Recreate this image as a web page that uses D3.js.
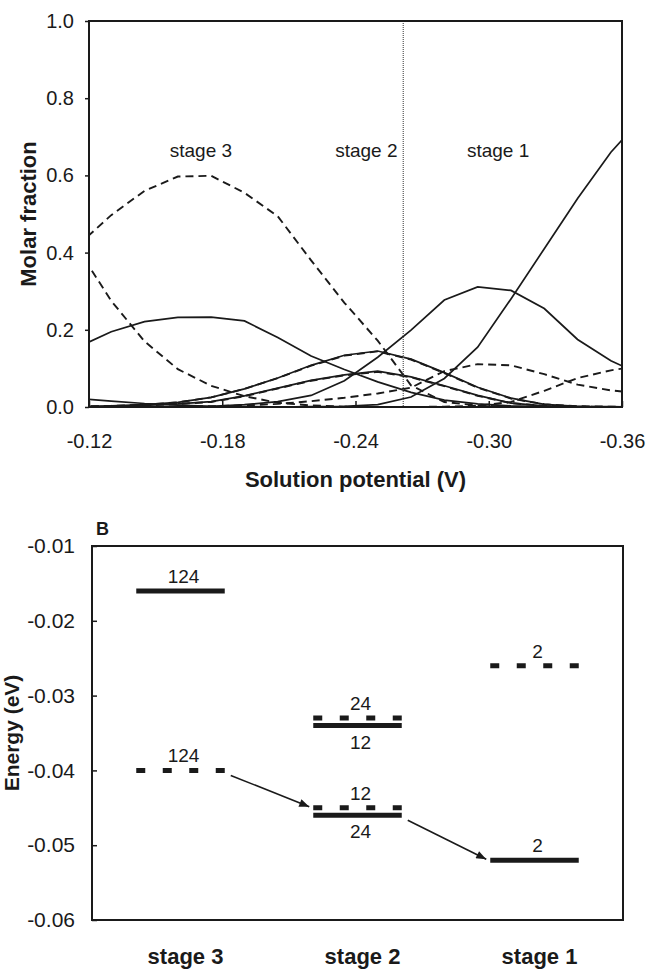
<!DOCTYPE html>
<html>
<head>
<meta charset="utf-8">
<script src="https://cdn.jsdelivr.net/npm/d3@7"></script>
<style>
body { margin: 0; background: #fff; }
svg { display: block; font-family: "Liberation Sans", Arial, sans-serif; }
</style>
</head>
<body>
<div id="chart"></div>
<script>
const WIDTH = 648
const HEIGHT = 971

// panel A: molar fraction vs solution potential
const potentials = [-0.115, -0.13, -0.145, -0.16, -0.175, -0.19, -0.205, -0.22, -0.235,
    -0.25, -0.265, -0.28, -0.295, -0.31, -0.325, -0.34, -0.355, -0.37]
const dashed_a = [0.419, 0.497, 0.560, 0.597, 0.599, 0.555, 0.494, 0.380, 0.270,
    0.172, 0.056, 0.013, 0.004, 0, 0, 0, 0, 0]
const dashed_b = [0.410, 0.275, 0.170, 0.098, 0.055, 0.028, 0.011, 0.004, 0.001,
    0, 0, 0, 0, 0, 0, 0, 0, 0]
const solid_c = [0.155, 0.195, 0.221, 0.232, 0.233, 0.223, 0.180, 0.132, 0.097,
    0.065, 0.038, 0.018, 0.008, 0.003, 0.001, 0, 0, 0]
const solid_d = [0.022, 0.015, 0.009, 0.005, 0.002, 0.001, 0, 0, 0,
    0, 0, 0, 0, 0, 0, 0, 0, 0]
const solid_e = [0.001, 0.003, 0.006, 0.012, 0.025, 0.047, 0.075, 0.108, 0.134,
    0.145, 0.124, 0.089, 0.051, 0.023, 0.007, 0.002, 0.001, 0]
const dashed_e = [0.001, 0.003, 0.006, 0.012, 0.025, 0.047, 0.075, 0.107, 0.133,
    0.144, 0.123, 0.088, 0.050, 0.022, 0.007, 0.002, 0.001, 0]
const solid_f = [0, 0.002, 0.004, 0.008, 0.014, 0.029, 0.049, 0.069, 0.083,
    0.093, 0.078, 0.055, 0.030, 0.010, 0.003, 0.001, 0, 0]
const dashed_f = [0, 0.002, 0.004, 0.008, 0.013, 0.028, 0.048, 0.068, 0.082,
    0.091, 0.077, 0.054, 0.029, 0.010, 0.003, 0.001, 0, 0]
const solid_g = [0, 0, 0, 0.001, 0.002, 0.006, 0.014, 0.030, 0.068,
    0.129, 0.199, 0.277, 0.311, 0.302, 0.255, 0.175, 0.120, 0.080]
const solid_h = [0, 0, 0, 0, 0, 0, 0, 0.001, 0.002,
    0.006, 0.026, 0.074, 0.155, 0.280, 0.410, 0.540, 0.660, 0.755]
const dashed_i = [0, 0, 0, 0.001, 0.002, 0.004, 0.008, 0.015, 0.024,
    0.035, 0.050, 0.093, 0.111, 0.108, 0.085, 0.058, 0.043, 0.035]
const dashed_j = [0, 0, 0, 0, 0, 0, 0, 0, 0,
    0, 0, 0.001, 0.003, 0.013, 0.042, 0.075, 0.095, 0.108]

const x_ticks = [-0.12, -0.18, -0.24, -0.30, -0.36]
const y_ticks = [0, 0.2, 0.4, 0.6, 0.8, 1.0]
const stage_boundary = -0.2615
const stage_names = ["stage 3", "stage 2", "stage 1"]
const stage_label_potentials = [-0.1704, -0.2449, -0.3042]

// panel B: energy levels
const stages = ["stage 3", "stage 2", "stage 1"]
const level_stage = ["stage 3", "stage 3", "stage 2", "stage 2", "stage 2", "stage 2", "stage 1", "stage 1"]
const level_energy = [-0.016, -0.040, -0.033, -0.034, -0.045, -0.046, -0.026, -0.052]
const level_kind = ["solid", "dashed", "dashed", "solid", "dashed", "solid", "dashed", "solid"]
const level_label = ["124", "124", "24", "12", "12", "24", "2", "2"]
const level_label_side = ["above", "above", "above", "below", "above", "below", "above", "above"]
const arrow_from = [1, 5]
const arrow_to = [4, 7]
const energy_ticks = [-0.06, -0.05, -0.04, -0.03, -0.02, -0.01]

const svg = d3.select("#chart")
    .append("svg")
    .attr("width", WIDTH)
    .attr("height", HEIGHT)

const INK = "#1a1a1a"

function style_axis($g, size) {
    $g.select(".domain").remove()
    $g.selectAll("line").attr("stroke", INK).attr("stroke-width", 1.5)
    $g.selectAll("text")
        .attr("fill", INK)
        .style("font-size", size + "px")
        .style("font-family", "'Liberation Sans', Arial, sans-serif")
}

// ---------- panel A ----------
const ax = d3.scaleLinear().domain([-0.12, -0.36]).range([89, 622])
const ay = d3.scaleLinear().domain([0, 1]).range([407, 21])

svg.append("clipPath").attr("id", "clip_a")
    .append("rect")
    .attr("x", ax(-0.12)).attr("y", ay(1))
    .attr("width", ax(-0.36) - ax(-0.12)).attr("height", ay(0) - ay(1))

const series = [
    { values: solid_c, dashed: false },
    { values: solid_d, dashed: false },
    { values: solid_e, dashed: false },
    { values: solid_f, dashed: false },
    { values: solid_g, dashed: false },
    { values: solid_h, dashed: false },
    { values: dashed_a, dashed: true },
    { values: dashed_b, dashed: true },
    { values: dashed_e, dashed: true },
    { values: dashed_f, dashed: true },
    { values: dashed_i, dashed: true },
    { values: dashed_j, dashed: true },
]

const line = d3.line()
    .x((d, i) => ax(potentials[i]))
    .y(d => ay(d))

svg.append("g")
    .attr("clip-path", "url(#clip_a)")
    .selectAll("path")
    .data(series)
    .enter()
    .append("path")
    .attr("d", d => line(d.values))
    .attr("fill", "none")
    .attr("stroke", INK)
    .attr("stroke-width", d => d.dashed ? 1.9 : 1.7)
    .attr("stroke-dasharray", d => d.dashed ? "8,5" : null)

// stage boundary
svg.append("line")
    .attr("x1", ax(stage_boundary)).attr("x2", ax(stage_boundary))
    .attr("y1", ay(1)).attr("y2", ay(0))
    .attr("stroke", "#555")
    .attr("stroke-width", 1.2)
    .attr("stroke-dasharray", "1,1")

svg.selectAll(".stage_a")
    .data(stage_names)
    .enter()
    .append("text")
    .attr("class", "stage_a")
    .attr("x", (d, i) => ax(stage_label_potentials[i]))
    .attr("y", 157)
    .attr("text-anchor", "middle")
    .attr("fill", INK)
    .style("font-size", "19px")
    .text(d => d)

svg.append("g")
    .attr("transform", `translate(${ax(-0.12)},0)`)
    .call(d3.axisLeft(ay).tickValues(y_ticks).tickSize(4).tickPadding(11)
        .tickFormat(d => d.toFixed(1)))
    .call($g => style_axis($g, 20))

svg.append("g")
    .attr("transform", `translate(0,${ay(0)})`)
    .call(d3.axisBottom(ax).tickValues(x_ticks).tickSize(-6).tickPadding(27)
        .tickFormat(d => d.toFixed(2)))
    .call($g => style_axis($g, 20))

svg.append("rect")
    .attr("x", ax(-0.12)).attr("y", ay(1))
    .attr("width", ax(-0.36) - ax(-0.12)).attr("height", ay(0) - ay(1))
    .attr("fill", "none")
    .attr("stroke", INK)
    .attr("stroke-width", 2)

svg.append("text")
    .attr("transform", `translate(36,${(ay(0) + ay(1)) / 2}) rotate(-90)`)
    .attr("text-anchor", "middle")
    .attr("fill", INK)
    .style("font-size", "22px")
    .style("font-weight", "bold")
    .text("Molar fraction")

svg.append("text")
    .attr("x", (ax(-0.12) + ax(-0.36)) / 2)
    .attr("y", 487)
    .attr("text-anchor", "middle")
    .attr("fill", INK)
    .style("font-size", "22px")
    .style("font-weight", "bold")
    .text("Solution potential (V)")

// ---------- panel B ----------
const bx = d3.scaleBand().domain(stages).range([92, 623])
const by = d3.scaleLinear().domain([-0.06, -0.01]).range([920, 546])
const level_w = bx.bandwidth() / 2

function level_x0(i) {
    return bx(level_stage[i]) + bx.bandwidth() / 4
}

svg.append("defs")
    .append("marker")
    .attr("id", "head")
    .attr("viewBox", "0 0 10 8")
    .attr("refX", 10).attr("refY", 4)
    .attr("markerWidth", 11).attr("markerHeight", 8)
    .attr("markerUnits", "userSpaceOnUse")
    .attr("orient", "auto")
    .append("path")
    .attr("d", "M0,0 L10,4 L0,8 z")
    .attr("fill", INK)

const levels = d3.range(level_energy.length)

svg.selectAll(".level")
    .data(levels)
    .enter()
    .append("line")
    .attr("class", "level")
    .attr("x1", i => level_x0(i))
    .attr("x2", i => level_x0(i) + level_w)
    .attr("y1", i => by(level_energy[i]))
    .attr("y2", i => by(level_energy[i]))
    .attr("stroke", INK)
    .attr("stroke-width", 5)
    .attr("stroke-dasharray", i => level_kind[i] == "dashed" ? "9,17.5" : null)

svg.selectAll(".level_label")
    .data(levels)
    .enter()
    .append("text")
    .attr("class", "level_label")
    .attr("x", i => bx(level_stage[i]) + bx.bandwidth() / 2 + 3)
    .attr("y", i => by(level_energy[i]) + (level_label_side[i] == "above" ? -8 : 23))
    .attr("text-anchor", "middle")
    .attr("fill", INK)
    .style("font-size", "19px")
    .text(i => level_label[i])

svg.selectAll(".arrow")
    .data(arrow_from)
    .enter()
    .append("line")
    .attr("class", "arrow")
    .attr("x1", a => level_x0(a) + level_w + 6)
    .attr("y1", a => by(level_energy[a]) + 5)
    .attr("x2", (a, k) => level_x0(arrow_to[k]) - 4)
    .attr("y2", (a, k) => by(level_energy[arrow_to[k]]) - 1)
    .attr("stroke", INK)
    .attr("stroke-width", 1.6)
    .attr("marker-end", "url(#head)")

svg.append("g")
    .attr("transform", `translate(92,0)`)
    .call(d3.axisLeft(by).tickValues(energy_ticks).tickSize(-5).tickPadding(17)
        .tickFormat(d => d.toFixed(2)))
    .call($g => style_axis($g, 21))

svg.append("rect")
    .attr("x", 92).attr("y", by(-0.01))
    .attr("width", 623 - 92).attr("height", by(-0.06) - by(-0.01))
    .attr("fill", "none")
    .attr("stroke", INK)
    .attr("stroke-width", 2)

svg.selectAll(".stage_b")
    .data(stages)
    .enter()
    .append("text")
    .attr("class", "stage_b")
    .attr("x", d => bx(d) + bx.bandwidth() / 2 + 5)
    .attr("y", 964)
    .attr("text-anchor", "middle")
    .attr("fill", INK)
    .style("font-size", "22px")
    .style("font-weight", "bold")
    .text(d => d)

svg.append("text")
    .attr("x", 96)
    .attr("y", 535)
    .attr("fill", INK)
    .style("font-size", "18px")
    .style("font-weight", "bold")
    .text("B")

svg.append("text")
    .attr("transform", `translate(19,${(by(-0.01) + by(-0.06)) / 2}) rotate(-90)`)
    .attr("text-anchor", "middle")
    .attr("fill", INK)
    .style("font-size", "21px")
    .style("font-weight", "bold")
    .text("Energy (eV)")
</script>
</body>
</html>
